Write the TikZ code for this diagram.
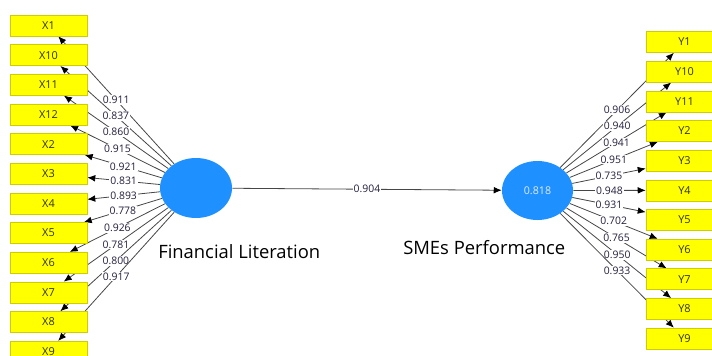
\documentclass[tikz,border=0pt]{standalone}
\usepackage{fontspec}
\setmainfont{Open Sans}
\usetikzlibrary{arrows.meta}
\usetikzlibrary{shapes.geometric}
\usetikzlibrary{backgrounds}

\tikzset{
  item/.style={draw={rgb, 255:red, 205; green, 205; blue, 0 }, fill={rgb, 255:red, 255; green, 255; blue, 0 }, minimum width=57.75pt, minimum height=15.75pt, inner sep=0pt, font=\fontsize{8.2}{9}\selectfont, text={rgb, 255:red, 50; green, 50; blue, 20 }},
  construct/.style={ellipse, fill={rgb, 255:red, 30; green, 144; blue, 255 }, minimum width=54pt, minimum height=45pt, inner sep=0pt, text={rgb, 255:red, 225; green, 235; blue, 255 }, font=\fontsize{8}{9}\selectfont},
  load/.style={draw={rgb, 255:red, 70; green, 70; blue, 70 }, line width=0.6pt, -{Latex[length=6pt,width=5pt,color=black]}},
  coef/.style={fill=white, inner sep=0.75pt, font=\fontsize{7.8}{8}\selectfont, text={rgb, 255:red, 35; green, 30; blue, 60 }},
  title/.style={anchor=west, inner sep=0pt, font=\fontsize{13.8}{16}\selectfont},
}

\begin{document}
\begin{tikzpicture}[x=0.75pt,y=0.75pt,yscale=-1,xscale=1]
\useasboundingbox (0,0) rectangle (712,356);

%Shape: Ellipse [constructs]
\node[construct] (FL) at (196,188) {};
\node[construct, minimum width=53.25pt, minimum height=44.25pt] (SP) at (537.5,190.5) {0.818};

% Text Node
\node[title] (FLname) at (158,252) {Financial Literation};
% Text Node
\node[title] (SPname) at (403,248) {SMEs Performance};

%Shape: Rectangle [indicators X]
\node[item] (X1) at (48.5,25.5) {X1};
\node[item] (X10) at (48.5,55.2) {X10};
\node[item] (X11) at (48.5,84.8) {X11};
\node[item] (X12) at (48.5,114.5) {X12};
\node[item] (X2) at (48.5,144.1) {X2};
\node[item] (X3) at (48.5,173.8) {X3};
\node[item] (X4) at (48.5,203.4) {X4};
\node[item] (X5) at (48.5,233.1) {X5};
\node[item] (X6) at (48.5,262.7) {X6};
\node[item] (X7) at (48.5,292.4) {X7};
\node[item] (X8) at (48.5,322) {X8};
\node[item] (X9) at (48.5,351.7) {X9};

%Shape: Rectangle [indicators Y]
\node[item] (Y1) at (684.5,42) {Y1};
\node[item] (Y10) at (684.5,71.7) {Y10};
\node[item] (Y11) at (684.5,101.3) {Y11};
\node[item] (Y2) at (684.5,131) {Y2};
\node[item] (Y3) at (684.5,160.6) {Y3};
\node[item] (Y4) at (684.5,190.3) {Y4};
\node[item] (Y5) at (684.5,219.9) {Y5};
\node[item] (Y6) at (684.5,249.6) {Y6};
\node[item] (Y7) at (684.5,279.2) {Y7};
\node[item] (Y8) at (684.5,308.9) {Y8};
\node[item] (Y9) at (684.5,338.5) {Y9};

\begin{pgfonlayer}{background}
%Straight Lines [outer loadings, Financial Literation]
\draw[load] (FL) -- node[coef] {0.911} (X1);
\draw[load] (FL) -- node[coef] {0.837} (X10);
\draw[load] (FL) -- node[coef] {0.860} (X11);
\draw[load] (FL) -- node[coef] {0.915} (X12);
\draw[load] (FL) -- node[coef] {0.921} (X2);
\draw[load] (FL) -- node[coef] {0.831} (X3);
\draw[load] (FL) -- node[coef] {0.893} (X4);
\draw[load] (FL) -- node[coef] {0.778} (X5);
\draw[load] (FL) -- node[coef] {0.926} (X6);
\draw[load] (FL) -- node[coef] {0.781} (X7);
\draw[load] (FL) -- node[coef] {0.800} (X8);
\draw[load] (FL) -- node[coef] {0.917} (X9);

%Straight Lines [outer loadings, SMEs Performance]
\draw[load] (SP) -- node[coef] {0.906} (Y1);
\draw[load] (SP) -- node[coef] {0.940} (Y10);
\draw[load] (SP) -- node[coef] {0.941} (Y11);
\draw[load] (SP) -- node[coef] {0.951} (Y2);
\draw[load] (SP) -- node[coef] {0.735} (Y3);
\draw[load] (SP) -- node[coef] {0.948} (Y4);
\draw[load] (SP) -- node[coef] {0.931} (Y5);
\draw[load] (SP) -- node[coef] {0.702} (Y6);
\draw[load] (SP) -- node[coef] {0.765} (Y7);
\draw[load] (SP) -- node[coef] {0.950} (Y8);
\draw[load] (SP) -- node[coef] {0.933} (Y9);

%Straight Lines [path coefficient]
\draw[load] (FL) -- node[coef] {0.904} (SP);
\end{pgfonlayer}

\end{tikzpicture}
\end{document}
